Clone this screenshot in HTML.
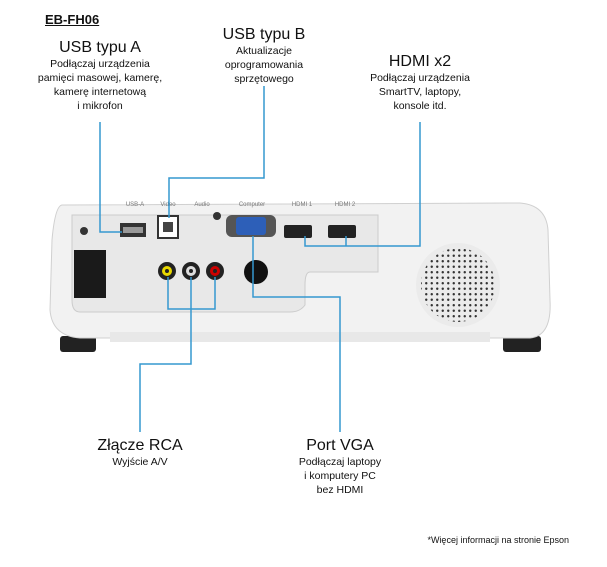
<!DOCTYPE html>
<html><head><meta charset="utf-8"><style>
body{margin:0;width:607px;height:567px;background:#fff;position:relative;overflow:hidden;font-family:"Liberation Sans",sans-serif;color:#111}
.t{position:absolute;text-align:center;transform:translateX(-50%);white-space:nowrap}
.h{font-size:16px;line-height:19px}
.s{font-size:10.5px;line-height:14px}
</style></head><body>
<div style="position:absolute;left:45px;top:12px;font-size:13px;font-weight:bold;text-decoration:underline">EB-FH06</div>
<div class="t" style="left:100px;top:38px"><div class="h">USB typu A</div><div class="s">Podłączaj urządzenia<br>pamięci masowej, kamerę,<br>kamerę internetową<br>i mikrofon</div></div>
<div class="t" style="left:264px;top:25px"><div class="h">USB typu B</div><div class="s">Aktualizacje<br>oprogramowania<br>sprzętowego</div></div>
<div class="t" style="left:420px;top:52px"><div class="h">HDMI x2</div><div class="s">Podłączaj urządzenia<br>SmartTV, laptopy,<br>konsole itd.</div></div>
<div class="t" style="left:140px;top:436px"><div class="h">Złącze RCA</div><div class="s">Wyjście A/V</div></div>
<div class="t" style="left:340px;top:436px"><div class="h">Port VGA</div><div class="s">Podłączaj laptopy<br>i komputery PC<br>bez HDMI</div></div>
<div style="position:absolute;right:38px;top:535px;font-size:9px">*Więcej informacji na stronie Epson</div>
<svg width="607" height="567" style="position:absolute;left:0;top:0">
<defs>
<pattern id="dots" width="5.5" height="5.5" patternUnits="userSpaceOnUse"><circle cx="2.75" cy="2.75" r="1.2" fill="#333"/></pattern>
<clipPath id="sp"><circle cx="458" cy="285" r="37"/></clipPath>
</defs>
<rect x="60" y="336" width="36" height="16" rx="3" fill="#222"/>
<rect x="503" y="336" width="38" height="16" rx="3" fill="#222"/>
<path d="M62 205 Q55 206 52 240 L50 310 Q52 336 80 338 L530 338 Q552 336 550 300 L548 230 Q546 205 520 203 Z" fill="#f2f2f2" stroke="#d0d0d0"/>
<rect x="110" y="332" width="380" height="10" fill="#e8e8e8"/>
<path d="M72 215 L378 215 L378 272 L310 272 Q305 272 305 285 L305 305 Q300 312 290 312 L80 312 Q72 312 72 300 Z" fill="#e8e8e8" stroke="#ccc"/>
<text x="135" y="206" font-size="6" fill="#777" text-anchor="middle" font-family="Liberation Sans">USB-A</text>
<text x="168" y="206" font-size="6" fill="#777" text-anchor="middle" font-family="Liberation Sans">Video</text>
<text x="202" y="206" font-size="6" fill="#777" text-anchor="middle" font-family="Liberation Sans">Audio</text>
<text x="252" y="206" font-size="6" fill="#777" text-anchor="middle" font-family="Liberation Sans">Computer</text>
<text x="302" y="206" font-size="6" fill="#777" text-anchor="middle" font-family="Liberation Sans">HDMI 1</text>
<text x="345" y="206" font-size="6" fill="#777" text-anchor="middle" font-family="Liberation Sans">HDMI 2</text>
<rect x="74" y="250" width="32" height="48" fill="#1a1a1a"/>
<circle cx="84" cy="231" r="4" fill="#333"/>
<rect x="120" y="223" width="26" height="14" fill="#333"/>
<rect x="123" y="227" width="20" height="6" fill="#999"/>
<rect x="158" y="216" width="20" height="22" fill="#fff" stroke="#333" stroke-width="2"/>
<rect x="163" y="222" width="10" height="10" fill="#444"/>
<rect x="226" y="215" width="50" height="22" rx="6" fill="#555"/>
<rect x="236" y="217" width="30" height="18" rx="3" fill="#2d5fb8"/>
<circle cx="217" cy="216" r="4" fill="#333"/>
<rect x="284" y="225" width="28" height="13" rx="2" fill="#222"/>
<rect x="328" y="225" width="28" height="13" rx="2" fill="#222"/>
<circle cx="167" cy="271" r="9" fill="#222"/><circle cx="167" cy="271" r="5" fill="#e8d800"/><circle cx="167" cy="271" r="2" fill="#222"/>
<circle cx="191" cy="271" r="9" fill="#222"/><circle cx="191" cy="271" r="5" fill="#ddd"/><circle cx="191" cy="271" r="2" fill="#222"/>
<circle cx="215" cy="271" r="9" fill="#222"/><circle cx="215" cy="271" r="5" fill="#c00"/><circle cx="215" cy="271" r="2" fill="#222"/>
<circle cx="256" cy="272" r="12" fill="#111"/>
<circle cx="458" cy="285" r="42" fill="#ebebeb"/>
<rect x="418" y="245" width="80" height="80" fill="url(#dots)" clip-path="url(#sp)"/>
<g fill="none" stroke="#3598cf" stroke-width="1.5">
<path d="M100 122 V232 H122"/>
<path d="M264 86 V178 H169 V218"/>
<path d="M420 122 V246 H305 V236 M346 246 V236"/>
<path d="M168 277 V309 H215 V277 M191 277 V364 H140 V432"/>
<path d="M253 236 V297 H340 V432"/>
</g>
</svg>
</body></html>
